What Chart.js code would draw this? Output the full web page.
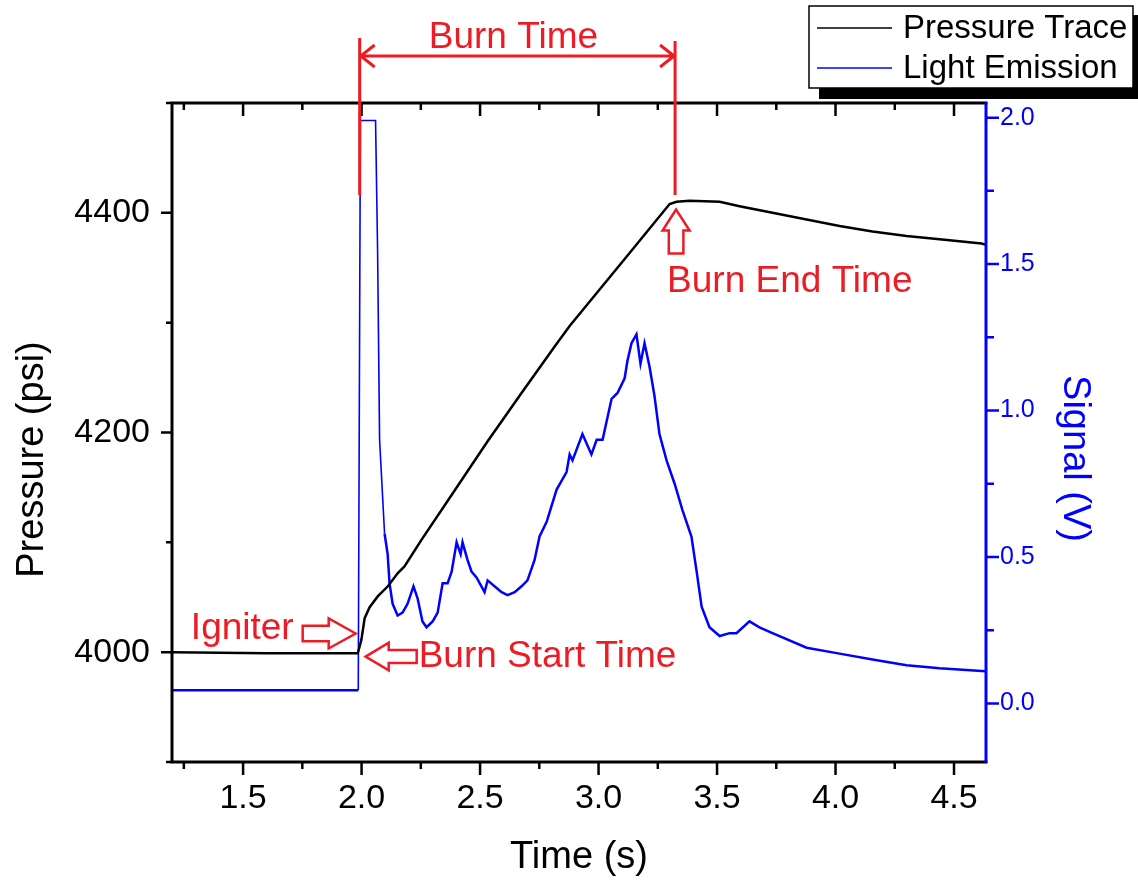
<!DOCTYPE html>
<html>
<head>
<meta charset="utf-8">
<title>Pressure Trace and Light Emission</title>
<script src="https://cdn.jsdelivr.net/npm/chart.js@4.4.0/dist/chart.umd.min.js"></script>
<style>
  html, body { margin: 0; padding: 0; background: #fff; }
  #wrap { width: 1138px; height: 884px; }
</style>
</head>
<body>
<div id="wrap"><canvas id="chart"></canvas></div>
<script>
// Pressure trace (left axis, psi)
const pressureTime = [1.2, 1.6, 1.984, 1.999, 2.013, 2.034, 2.069, 2.111, 2.153, 2.181, 2.252, 2.392, 2.532, 2.675, 2.814, 2.878, 3.118, 3.3, 3.329, 3.384, 3.511, 3.595, 3.734, 3.878, 4.017, 4.156, 4.3, 4.439, 4.616, 4.635];
const pressureValues = [4000, 3999, 3999, 4011, 4031, 4041, 4051, 4060, 4072, 4078, 4102, 4147, 4192, 4236, 4278, 4297, 4360, 4408, 4410, 4411, 4410, 4406, 4400, 4394, 4388, 4383, 4379, 4376, 4372, 4371];

// Light emission (right axis, V)
const signalTime = [1.2, 1.986, 1.995, 2.059, 2.0675, 2.076, 2.097, 2.110, 2.118, 2.131, 2.152, 2.173, 2.194, 2.219, 2.236, 2.257, 2.274, 2.300, 2.321, 2.342, 2.363, 2.380, 2.401, 2.418, 2.426, 2.447, 2.464, 2.485, 2.519, 2.532, 2.561, 2.591, 2.616, 2.646, 2.675, 2.700, 2.730, 2.751, 2.781, 2.823, 2.865, 2.878, 2.890, 2.932, 2.970, 2.992, 3.017, 3.055, 3.080, 3.110, 3.122, 3.139, 3.160, 3.177, 3.194, 3.215, 3.236, 3.257, 3.287, 3.321, 3.354, 3.392, 3.414, 3.435, 3.468, 3.511, 3.553, 3.582, 3.637, 3.679, 3.734, 3.878, 4.017, 4.156, 4.300, 4.439, 4.633];
const signalValues = [0.045, 0.045, 1.99, 1.99, 1.55, 0.90, 0.58, 0.51, 0.41, 0.34, 0.30, 0.31, 0.34, 0.40, 0.36, 0.28, 0.26, 0.28, 0.31, 0.41, 0.41, 0.45, 0.55, 0.51, 0.55, 0.49, 0.45, 0.43, 0.38, 0.42, 0.40, 0.38, 0.37, 0.38, 0.40, 0.42, 0.49, 0.57, 0.62, 0.73, 0.79, 0.85, 0.83, 0.92, 0.85, 0.90, 0.90, 1.04, 1.06, 1.11, 1.17, 1.23, 1.26, 1.16, 1.23, 1.15, 1.05, 0.92, 0.83, 0.75, 0.66, 0.57, 0.45, 0.33, 0.26, 0.23, 0.24, 0.24, 0.28, 0.26, 0.24, 0.19, 0.17, 0.15, 0.13, 0.12, 0.11];

// Tick labels and minor ticks
const timeTicks = [1.5, 2.0, 2.5, 3.0, 3.5, 4.0, 4.5];
const timeMinor = [1.25, 1.75, 2.25, 2.75, 3.25, 3.75, 4.25];
const pressureTicks = [4000, 4200, 4400];
const pressureMinor = [3900, 4100, 4300, 4500];
const signalTicks = [0.0, 0.5, 1.0, 1.5, 2.0];
const signalMinor = [0.25, 0.75, 1.25, 1.75];

// Annotation anchors (s, psi)
const burnStart = 1.992;
const burnEnd = 3.323;
const igniterPressure = 4017;
const burnStartPressure = 3996;
const burnEndPressure = 4403;

const RED = '#ed1c24';
const BLUE = '#0000ff';
const FONT = '"Liberation Sans", Arial, sans-serif';

function toPoints(xs, ys) {
  return xs.map((t, i) => ({ x: t, y: ys[i] }));
}

function setTicks(values) {
  return scale => { scale.ticks = values.map(v => ({ value: v })); };
}

// hollow block arrow, tip at (tx, ty), angle = pointing direction
function blockArrow(ctx, tx, ty, angle, len, headLen, headHalf, shaftHalf) {
  const pts = [[0, 0], [-headLen, -headHalf], [-headLen, -shaftHalf], [-len, -shaftHalf],
               [-len, shaftHalf], [-headLen, shaftHalf], [-headLen, headHalf]];
  const c = Math.cos(angle), s = Math.sin(angle);
  ctx.beginPath();
  pts.forEach(([lx, ly], i) => {
    const px = tx + lx * c - ly * s;
    const py = ty + lx * s + ly * c;
    if (i === 0) ctx.moveTo(px, py); else ctx.lineTo(px, py);
  });
  ctx.closePath();
  ctx.fillStyle = '#fff';
  ctx.fill();
  ctx.strokeStyle = RED;
  ctx.lineWidth = 2.5;
  ctx.stroke();
}

function tickMarks(ctx, values, scale, len, side) {
  ctx.beginPath();
  values.forEach(v => {
    const p = scale.getPixelForValue(v);
    if (side === 'bottom') { ctx.moveTo(p, scale.top); ctx.lineTo(p, scale.top + len); }
    if (side === 'top') { ctx.moveTo(p, scale.chart.chartArea.top); ctx.lineTo(p, scale.chart.chartArea.top + len); }
    if (side === 'left') { ctx.moveTo(scale.right, p); ctx.lineTo(scale.right - len, p); }
    if (side === 'right') { ctx.moveTo(scale.left, p); ctx.lineTo(scale.left + len, p); }
  });
  ctx.stroke();
}

const decorPlugin = {
  id: 'decor',
  afterDatasetsDraw(chart) {
    const { ctx, chartArea: a } = chart;
    const x = chart.scales.x, y = chart.scales.y, y1 = chart.scales.y1;
    ctx.save();

    // frame
    ctx.lineCap = 'square';
    ctx.lineWidth = 3;
    ctx.strokeStyle = '#000';
    ctx.beginPath();
    ctx.moveTo(a.right, a.top); ctx.lineTo(a.left, a.top);
    ctx.lineTo(a.left, a.bottom); ctx.lineTo(a.right, a.bottom);
    ctx.stroke();
    ctx.strokeStyle = BLUE;
    ctx.beginPath();
    ctx.moveTo(a.right, a.top + 1); ctx.lineTo(a.right, a.bottom - 1);
    ctx.stroke();

    // ticks
    ctx.lineCap = 'butt';
    ctx.lineWidth = 2.5;
    ctx.strokeStyle = '#000';
    tickMarks(ctx, timeTicks, x, 13, 'bottom');
    tickMarks(ctx, timeMinor, x, 7, 'bottom');
    tickMarks(ctx, timeTicks, x, 13, 'top');
    tickMarks(ctx, timeMinor, x, 7, 'top');
    tickMarks(ctx, pressureTicks, y, 11, 'left');
    tickMarks(ctx, pressureMinor, y, 6, 'left');
    ctx.strokeStyle = BLUE;
    tickMarks(ctx, signalTicks, y1, 13, 'right');
    tickMarks(ctx, signalMinor, y1, 8, 'right');

    // axis titles
    ctx.font = '38px ' + FONT;
    ctx.textAlign = 'center';
    ctx.textBaseline = 'middle';
    ctx.fillStyle = '#000';
    ctx.fillText('Time (s)', (a.left + a.right) / 2, a.bottom + 96);
    ctx.save();
    ctx.translate(33, (a.top + a.bottom) / 2 + 27);
    ctx.rotate(-Math.PI / 2);
    ctx.fillText('Pressure (psi)', 0, 0);
    ctx.restore();
    ctx.save();
    ctx.fillStyle = BLUE;
    ctx.translate(a.right + 88, (a.top + a.bottom) / 2 + 26);
    ctx.rotate(Math.PI / 2);
    ctx.fillText('Signal (V)', 0, 0);
    ctx.restore();

    // burn time bracket
    const xs = x.getPixelForValue(burnStart);
    const xe = x.getPixelForValue(burnEnd);
    ctx.strokeStyle = RED;
    ctx.lineWidth = 3;
    ctx.beginPath();
    ctx.moveTo(xs, a.top - 65); ctx.lineTo(xs, a.top + 92);
    ctx.moveTo(xe, a.top - 62); ctx.lineTo(xe, a.top + 92);
    const ay = a.top - 47;
    ctx.moveTo(xs, ay); ctx.lineTo(xe, ay);
    ctx.moveTo(xs + 15, ay - 11); ctx.lineTo(xs + 1, ay); ctx.lineTo(xs + 15, ay + 11);
    ctx.moveTo(xe - 15, ay - 11); ctx.lineTo(xe - 1, ay); ctx.lineTo(xe - 15, ay + 11);
    ctx.stroke();

    ctx.fillStyle = RED;
    ctx.font = '37px ' + FONT;
    ctx.textAlign = 'center';
    ctx.textBaseline = 'alphabetic';
    ctx.fillText('Burn Time', (xs + xe) / 2 - 4, a.top - 55);

    // burn end arrow
    const ex = xe + 1, ey = y.getPixelForValue(burnEndPressure);
    blockArrow(ctx, ex, ey, -Math.PI / 2, 44, 21, 13.5, 7.3);
    ctx.fillStyle = RED;
    ctx.textAlign = 'left';
    ctx.fillText('Burn End Time', ex - 9, ey + 82);

    // igniter arrow
    const ix = xs - 4, iy = y.getPixelForValue(igniterPressure);
    blockArrow(ctx, ix, iy, 0, 53, 27, 15, 7.8);
    ctx.fillStyle = RED;
    ctx.textAlign = 'right';
    ctx.fillText('Igniter', ix - 62, iy + 6);

    // burn start arrow
    const bx = xs + 6, by = y.getPixelForValue(burnStartPressure);
    blockArrow(ctx, bx, by, Math.PI, 51, 23, 13.8, 6.5);
    ctx.fillStyle = RED;
    ctx.textAlign = 'left';
    ctx.fillText('Burn Start Time', bx + 53, by + 10);

    // legend box with drop shadow
    ctx.fillStyle = '#000';
    ctx.fillRect(819, 15, 320, 84);
    ctx.fillStyle = '#fff';
    ctx.fillRect(809, 6, 324, 82);
    ctx.strokeStyle = '#000';
    ctx.lineWidth = 1.5;
    ctx.strokeRect(809, 6, 324, 82);
    ctx.font = '33px ' + FONT;
    ctx.textAlign = 'left';
    ctx.textBaseline = 'middle';
    chart.data.datasets.forEach((ds, i) => {
      const ly = 28 + i * 40;
      ctx.strokeStyle = ds.borderColor;
      ctx.lineWidth = 1.5;
      ctx.beginPath();
      ctx.moveTo(817, ly); ctx.lineTo(892, ly);
      ctx.stroke();
      ctx.fillStyle = '#000';
      ctx.fillText(ds.label, 903, ly + 1);
    });

    ctx.restore();
  }
};

new Chart(document.getElementById('chart'), {
  type: 'line',
  data: {
    datasets: [
      {
        label: 'Pressure Trace',
        data: toPoints(pressureTime, pressureValues),
        borderColor: '#000',
        borderWidth: 2.5,
        pointRadius: 0,
        yAxisID: 'y'
      },
      {
        label: 'Light Emission',
        data: toPoints(signalTime, signalValues),
        borderColor: BLUE,
        borderWidth: 2.5,
        pointRadius: 0,
        yAxisID: 'y1',
        // the saturated spike is drawn thinner than the rest of the trace
        segment: {
          borderWidth: c => (c.p1.parsed.x < 2.1 && c.p0.parsed.x > 1.9 ? 1.6 : 2.5)
        }
      }
    ]
  },
  options: {
    responsive: true,
    maintainAspectRatio: false,
    animation: false,
    layout: { padding: { top: 103, left: 0, right: 0, bottom: 0 } },
    plugins: {
      legend: { display: false },
      tooltip: { enabled: false }
    },
    scales: {
      x: {
        type: 'linear',
        min: 1.2,
        max: 4.635,
        afterBuildTicks: setTicks(timeTicks),
        afterFit: s => { s.height = 122; },
        grid: { display: false, drawTicks: false },
        border: { display: false },
        ticks: {
          autoSkip: false,
          maxRotation: 0,
          padding: 16,
          color: '#000',
          font: { family: FONT, size: 34 },
          callback: v => v.toFixed(1)
        }
      },
      y: {
        type: 'linear',
        position: 'left',
        min: 3900,
        max: 4500,
        afterBuildTicks: setTicks(pressureTicks),
        afterFit: s => { s.width = 172; },
        grid: { display: false, drawTicks: false },
        border: { display: false },
        ticks: {
          padding: 22,
          color: '#000',
          font: { family: FONT, size: 34 },
          callback: v => String(v)
        }
      },
      y1: {
        type: 'linear',
        position: 'right',
        min: -0.2,
        max: 2.05,
        afterBuildTicks: setTicks(signalTicks),
        afterFit: s => { s.width = 152; },
        grid: { display: false, drawTicks: false },
        border: { display: false },
        ticks: {
          padding: 14,
          color: BLUE,
          font: { family: FONT, size: 25 },
          callback: v => v.toFixed(1)
        }
      }
    }
  },
  plugins: [decorPlugin]
});
</script>
</body>
</html>
